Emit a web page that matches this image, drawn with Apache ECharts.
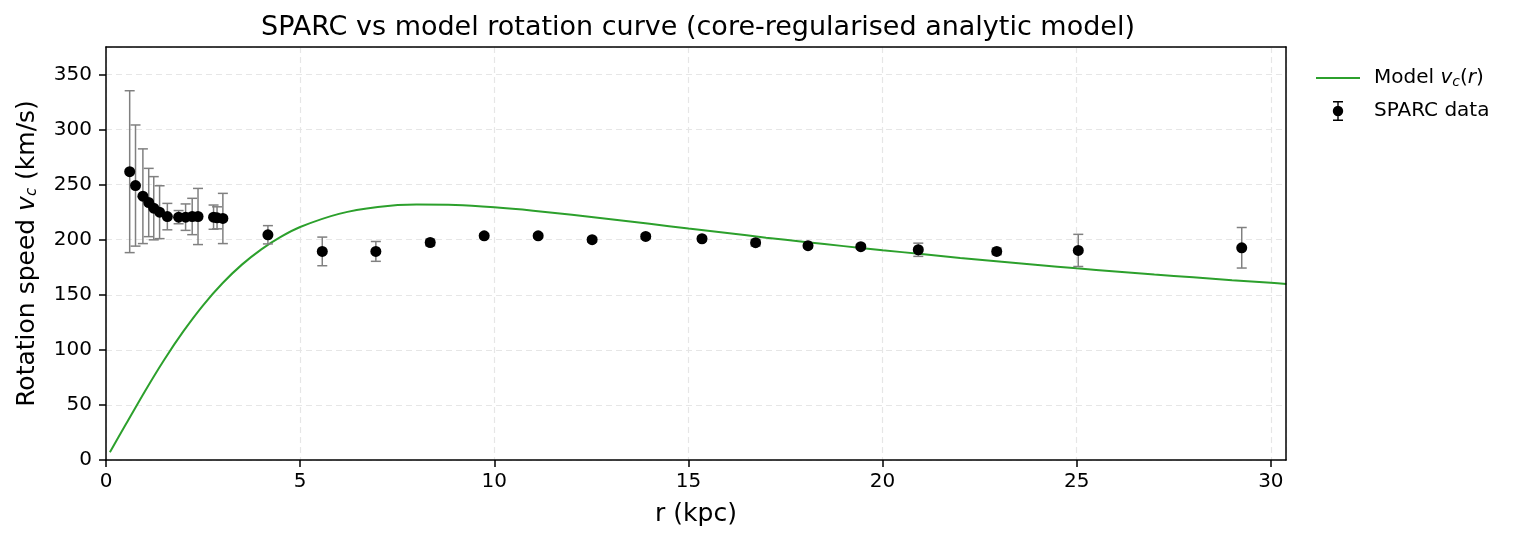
<!DOCTYPE html>
<html>
<head>
<meta charset="utf-8">
<title>SPARC vs model rotation curve</title>
<script src="https://cdn.jsdelivr.net/npm/echarts@6/dist/echarts.min.js"></script>
<style>
  html, body { margin: 0; padding: 0; background: #fff; }
  #chart { width: 1517px; height: 542px; }
</style>
</head>
<body>
<div id="chart"></div>
<script>
// SPARC observations (kpc, km/s)
const radius = [0.61, 0.76, 0.95, 1.10, 1.23, 1.38, 1.58, 1.87, 2.05, 2.22, 2.37, 2.77, 2.86, 3.01,
  4.17, 5.57, 6.95, 8.35, 9.74, 11.13, 12.52, 13.90, 15.35, 16.73, 18.08, 19.44, 20.92, 22.94, 25.04, 29.25]
const vobs = [261.8, 249.2, 239.5, 233.8, 228.6, 225.0, 221.0, 220.5, 220.5, 221.1, 221.1, 220.5, 219.9, 219.3,
  204.5, 189.4, 189.4, 197.5, 203.6, 203.6, 200.0, 203.0, 200.9, 197.3, 194.6, 193.7, 190.9, 189.4, 190.3, 192.7]
const verr = [73.5, 55, 43, 31, 28.7, 24, 12, 6, 12, 16.5, 25.5, 11, 10, 22.8,
  8.3, 13, 9, 3, 2, 2, 2, 2, 2, 3, 2, 2, 6, 3, 14.6, 18.4]

// model curve
const modelR = [0.1, 0.5, 1, 1.5, 2, 2.5, 3, 3.5, 4, 4.5, 5, 6, 7, 8, 9, 10, 11, 12, 13, 14, 15,
  16, 17, 18, 19, 20, 21, 22, 23, 24, 25, 26, 27, 28, 29, 30, 30.4]
const modelV = [7, 31.7, 62.3, 91.1, 117.2, 140.5, 160.5, 177.4, 191.3, 202.6, 211.6, 223.5, 229.7, 231.9,
  231.5, 229.4, 226.4, 222.7, 218.7, 214.5, 210.2, 206.1, 201.9, 198.0, 194.2, 190.5, 187.0, 183.4,
  180.2, 177.1, 174.0, 171.2, 168.4, 165.9, 163.3, 160.9, 159.9]

const xTicks = { min: 0, max: 30.39, interval: 5 }
const yTicks = { min: 0, max: 375, interval: 50 }

const FONT = 'DejaVu Sans'
const sub = {
  i: { fontFamily: FONT, fontStyle: 'italic' },
  s: { fontFamily: FONT, fontStyle: 'italic', fontSize: 15, padding: [9, 0, 0, 0] }
}
const spine = { show: true, onZero: false, lineStyle: { color: '#000', width: 1.5 } }

const chart = echarts.init(document.getElementById('chart'))

const option = {
  animation: false,
  backgroundColor: '#fff',
  title: {
    text: 'SPARC vs model rotation curve (core-regularised analytic model)',
    left: 256,
    top: 9,
    textStyle: { fontFamily: FONT, fontSize: 27, fontWeight: 'normal', color: '#000' }
  },
  legend: {
    orient: 'vertical',
    left: 1316,
    top: 68,
    padding: 0,
    itemWidth: 44,
    itemHeight: 20,
    itemGap: 12,
    data: [
      { name: 'Model', icon: 'path://M0,0H44V2H0Z' },
      { name: 'SPARC data', icon: 'path://M4.3,0H5.7V20H4.3Z M0,0H10V1.4H0Z M0,18.6H10V20H0Z M5,4.8A5.2,5.2 0 1 1 4.99,4.8Z' }
    ],
    formatter: function (name) {
      return name === 'Model' ? 'Model {i|v}{s|c}({i|r})' : name
    },
    textStyle: {
      fontFamily: FONT,
      fontSize: 20,
      color: '#000',
      padding: [0, 0, 0, 9],
      rich: {
        i: { fontFamily: FONT, fontStyle: 'italic', fontSize: 20 },
        s: { fontFamily: FONT, fontStyle: 'italic', fontSize: 14, padding: [8, 0, 0, 0] }
      }
    }
  },
  grid: {
    left: 106,
    right: 231,
    top: 47,
    bottom: 82
  },
  xAxis: [
    {
      type: 'value',
      min: xTicks.min,
      max: xTicks.max,
      interval: xTicks.interval,
      name: 'r (kpc)',
      nameLocation: 'middle',
      nameGap: 42,
      nameTextStyle: { fontFamily: FONT, fontSize: 25, color: '#000' },
      axisLine: spine,
      axisTick: { show: true, inside: false, length: 7, lineStyle: { color: '#000', width: 1.5 } },
      axisLabel: { fontFamily: FONT, fontSize: 20, color: '#000', margin: 12, showMaxLabel: false },
      splitLine: { show: true, lineStyle: { color: '#e6e6e6', type: [6, 4], width: 1.2 } }
    },
    {
      type: 'value',
      position: 'top',
      min: xTicks.min,
      max: xTicks.max,
      interval: xTicks.interval,
      axisLine: spine,
      axisTick: { show: false },
      axisLabel: { show: false },
      splitLine: { show: false },
      z: 5
    }
  ],
  yAxis: [
    {
      type: 'value',
      min: yTicks.min,
      max: yTicks.max,
      interval: yTicks.interval,
      name: 'Rotation speed {i|v}{s|c} (km/s)',
      nameLocation: 'middle',
      nameRotate: 90,
      nameGap: 66,
      nameTextStyle: { fontFamily: FONT, fontSize: 25, color: '#000', rich: sub },
      axisLine: spine,
      axisTick: { show: true, inside: false, length: 7, lineStyle: { color: '#000', width: 1.5 } },
      axisLabel: { fontFamily: FONT, fontSize: 20, color: '#000', margin: 14, showMaxLabel: false },
      splitLine: { show: true, lineStyle: { color: '#e6e6e6', type: [6, 4], width: 1.2 } }
    },
    {
      type: 'value',
      position: 'right',
      min: yTicks.min,
      max: yTicks.max,
      interval: yTicks.interval,
      axisLine: spine,
      axisTick: { show: false },
      axisLabel: { show: false },
      splitLine: { show: false },
      z: 5
    }
  ],
  series: [
    {
      name: 'Model',
      type: 'line',
      data: modelR.map((r, i) => [r, modelV[i]]),
      smooth: 0.3,
      showSymbol: false,
      symbol: 'none',
      lineStyle: { color: '#2ca02c', width: 2 },
      itemStyle: { color: '#2ca02c' },
      z: 2
    },
    {
      name: 'SPARC data',
      type: 'custom',
      data: radius.map((r, i) => [r, vobs[i] - verr[i], vobs[i] + verr[i]]),
      encode: { x: 0, y: [1, 2] },
      renderItem: function (params, api) {
        const top = api.coord([api.value(0), api.value(2)])
        const bot = api.coord([api.value(0), api.value(1)])
        const cap = 5
        const st = { stroke: '#808080', lineWidth: 1.5 }
        return {
          type: 'group',
          children: [
            { type: 'line', shape: { x1: top[0], y1: top[1], x2: bot[0], y2: bot[1] }, style: st },
            { type: 'line', shape: { x1: top[0] - cap, y1: top[1], x2: top[0] + cap, y2: top[1] }, style: st },
            { type: 'line', shape: { x1: bot[0] - cap, y1: bot[1], x2: bot[0] + cap, y2: bot[1] }, style: st }
          ]
        }
      },
      itemStyle: { color: '#000' },
      z: 3
    },
    {
      name: 'SPARC data',
      type: 'scatter',
      data: radius.map((r, i) => [r, vobs[i]]),
      symbol: 'circle',
      symbolSize: 11,
      itemStyle: { color: '#000', opacity: 1 },
      z: 4
    }
  ]
}

chart.setOption(option)
</script>
</body>
</html>
